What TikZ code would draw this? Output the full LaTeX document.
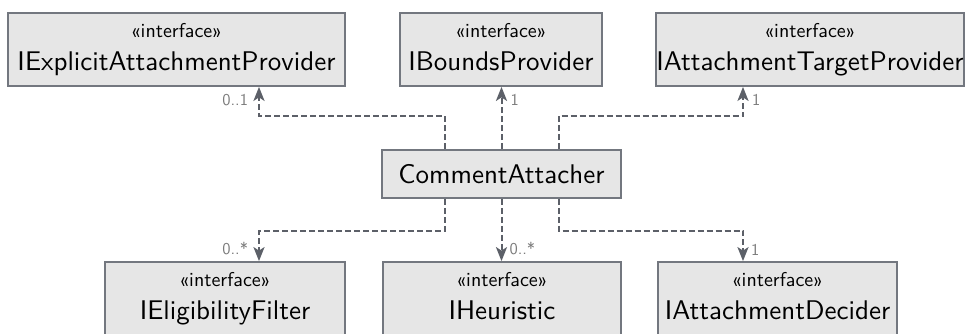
\documentclass[tikz,border=0pt]{standalone}
\usepackage{fontspec}
\usetikzlibrary{arrows.meta}

\newfontfamily\uisans{lmsans10-regular.otf}

\definecolor{boxfill}{HTML}{E6E6E6}
\definecolor{boxline}{HTML}{73777F}
\definecolor{wire}{HTML}{5C6068}
\definecolor{multgray}{HTML}{7B7B7B}

\newcommand{\stereo}[1]{{\fontsize{20}{22}\selectfont «#1»}}

\begin{document}
\begin{tikzpicture}[
        x=1pt,
        y=1pt,
        iface/.style={rectangle,draw=boxline,fill=boxfill,line width=1.8pt,minimum height=73pt,
            inner sep=0pt,align=center,text height=46pt,text depth=5pt,
            font=\uisans\fontsize{27}{33}\selectfont},
        klass/.style={rectangle,draw=boxline,fill=boxfill,line width=1.8pt,minimum height=48pt,
            inner sep=0pt,font=\uisans\fontsize{27}{33}\selectfont},
        dep/.style={draw=wire,line width=2pt,dash pattern=on 6pt off 3pt,
            -{Stealth[length=14pt,width=11pt,inset=3.5pt]}},
        mult/.style={font=\uisans\fontsize{16.5}{16}\selectfont,text=multgray,inner sep=2pt}
    ]
    \useasboundingbox (0,0) rectangle (969,-333);

    \node[klass,minimum width=239pt] (attacher) at (501.5,-174) {CommentAttacher};

    % providers above
    \node[iface,minimum width=337pt] (explicit) at (176.5,-49.5) {\stereo{interface}\\IExplicitAttachmentProvider};
    \node[iface,minimum width=202pt] (bounds) at (501,-49.5) {\stereo{interface}\\IBoundsProvider};
    \node[iface,minimum width=306pt] (target) at (810,-49.5) {\stereo{interface}\\IAttachmentTargetProvider};

    % collaborators below
    \node[iface,minimum width=240pt] (filter) at (225,-298.5) {\stereo{interface}\\IEligibilityFilter};
    \node[iface,minimum width=238pt] (heuristic) at (502,-298.5) {\stereo{interface}\\IHeuristic};
    \node[iface,minimum width=239pt] (decider) at (777.5,-298.5) {\stereo{interface}\\IAttachmentDecider};

    \draw[dep] ([xshift=-57pt]attacher.north) -- ++(0,33) -| ([xshift=82.5pt]explicit.south)
        node[mult,pos=1,anchor=north east,xshift=-8pt,yshift=-4.5pt] {0..1};
    \draw[dep] (attacher.north) -- (attacher.north |- bounds.south)
        node[mult,pos=1,anchor=north west,xshift=6pt,yshift=-4.5pt] {1};
    \draw[dep] ([xshift=57pt]attacher.north) -- ++(0,33) -| ([xshift=-67pt]target.south)
        node[mult,pos=1,anchor=north west,xshift=6pt,yshift=-4.5pt] {1};

    \draw[dep] ([xshift=-57pt]attacher.south) -- ++(0,-32) -| ([xshift=34pt]filter.north)
        node[mult,pos=1,anchor=south east,xshift=-8pt,yshift=3pt] {0..*};
    \draw[dep] (attacher.south) -- (attacher.south |- heuristic.north)
        node[mult,pos=1,anchor=south west,xshift=5pt,yshift=3pt] {0..*};
    \draw[dep] ([xshift=57pt]attacher.south) -- ++(0,-32) -| ([xshift=-34.5pt]decider.north)
        node[mult,pos=1,anchor=south west,xshift=5pt,yshift=3pt] {1};
\end{tikzpicture}
\end{document}
